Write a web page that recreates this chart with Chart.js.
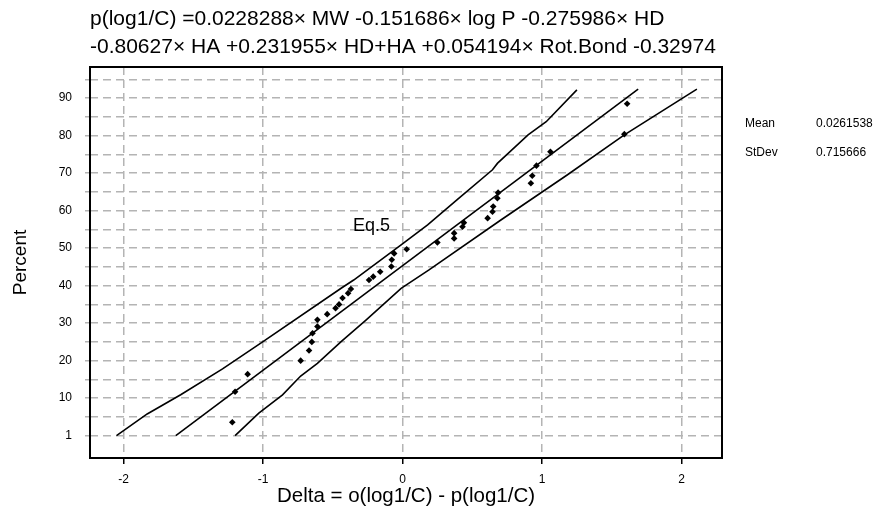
<!DOCTYPE html>
<html>
<head>
<meta charset="utf-8">
<title>Normal probability plot - Eq.5</title>
<script src="https://cdn.jsdelivr.net/npm/chart.js@4.4.1/dist/chart.umd.min.js"></script>
<style>
  body { margin: 0; background: #fff; }
  canvas { display: block; }
</style>
</head>
<body>
<canvas id="chart" width="877" height="511"></canvas>
<script>
// residuals (Delta) and their plotting positions
const deltaValues = [-1.22, -1.20, -1.11, -0.73, -0.67, -0.65, -0.645, -0.61, -0.61, -0.54,
  -0.48, -0.455, -0.43, -0.39, -0.37, -0.24, -0.21, -0.16, -0.08, -0.077,
  -0.06, 0.03, 0.25, 0.37, 0.37, 0.43, 0.44, 0.61, 0.645, 0.65,
  0.68, 0.685, 0.92, 0.93, 0.96, 1.06, 1.59, 1.61];
const percentValues = [3.6, 11.7, 16.4, 20.0, 22.7, 25.0, 27.3, 29.1, 30.9, 32.4,
  34.0, 35.0, 36.7, 38.0, 39.1, 41.5, 42.4, 43.7, 45.1, 46.9,
  48.6, 49.7, 51.5, 52.6, 54.0, 55.7, 56.8, 58.0, 59.7, 61.1,
  63.3, 64.8, 67.3, 69.3, 72.0, 75.7, 80.4, 88.5];

// fitted line and confidence band
const fitX = [-1.625, 1.689];
const fitY = [0, 92.4];
const upperX = [-2.05, -1.83, -1.59, -1.29, -1.0, -0.44, -0.35, -0.01, 0.18, 0.39, 0.645, 0.68, 0.90, 1.03, 1.25];
const upperY = [0, 5.8, 10.9, 17.8, 25.1, 39.3, 41.5, 50.9, 56.2, 62.9, 70.9, 72.6, 80.2, 83.7, 92.2];
const lowerX = [-1.2, -1.03, -0.86, -0.73, -0.61, -0.44, -0.26, -0.01, 0.19, 0.705, 1.18, 1.59, 2.11];
const lowerY = [0, 6.0, 10.9, 15.9, 19.3, 25.1, 30.9, 39.3, 44.2, 57.5, 69.5, 80.2, 92.4];

// axes
const xTicks = [-2, -1, 0, 1, 2];
const yTickValues = [0, 10, 20, 30, 40, 50, 60, 70, 80, 90];
const yTickLabels = ['1', '10', '20', '30', '40', '50', '60', '70', '80', '90'];
const yGridValues = [0, 5, 10, 15, 20, 25, 30, 35, 40, 45, 50, 55, 60, 65, 70, 75, 80, 85, 90, 95];

const titleLines = [
  'p(log1/C) =0.0228288\u00d7 MW -0.151686\u00d7 log P -0.275986\u00d7 HD',
  '-0.80627\u00d7 HA +0.231955\u00d7 HD+HA +0.054194\u00d7 Rot.Bond -0.32974'
];
const statNames = ['Mean', 'StDev'];
const statValues = ['0.0261538', '0.715666'];
const eqLabel = 'Eq.5';

const zip = (xs, ys) => xs.map((x, i) => ({ x: x, y: ys[i] }));

const lineStyle = {
  showLine: true, pointRadius: 0, borderColor: '#000', backgroundColor: '#000',
  borderWidth: 1.6, tension: 0, fill: false
};

const GRID = '#b4b4b4';
const FONT = 'Arial, "Liberation Sans", sans-serif';

// frame, title, stats box and the Eq.5 label
const extras = {
  id: 'extras',
  afterDraw(chart) {
    const { ctx, chartArea: a, scales } = chart;
    ctx.save();
    ctx.setLineDash([]);
    ctx.strokeStyle = '#000';
    ctx.lineWidth = 2;
    ctx.strokeRect(a.left, a.top, a.right - a.left, a.bottom - a.top);

    ctx.fillStyle = '#000';
    ctx.textAlign = 'left';
    ctx.textBaseline = 'alphabetic';
    ctx.font = '21px ' + FONT;
    ctx.fillText(titleLines[0], 90, 25);
    ctx.fillText(titleLines[1], 90, 53);

    ctx.font = '12px ' + FONT;
    statNames.forEach((n, i) => {
      ctx.fillText(n, 745, 127 + i * 29);
      ctx.fillText(statValues[i], 816, 127 + i * 29);
    });

    ctx.font = '18px ' + FONT;
    ctx.fillText(eqLabel, scales.x.getPixelForValue(-0.355), scales.y.getPixelForValue(54.5));
    ctx.restore();
  }
};

new Chart(document.getElementById('chart'), {
  type: 'scatter',
  data: {
    datasets: [
      { data: zip(deltaValues, percentValues), pointStyle: 'rectRot', pointRadius: 3.3,
        backgroundColor: '#000', borderColor: '#000', borderWidth: 0 },
      Object.assign({ data: zip(fitX, fitY) }, lineStyle),
      Object.assign({ data: zip(upperX, upperY) }, lineStyle),
      Object.assign({ data: zip(lowerX, lowerY) }, lineStyle)
    ]
  },
  options: {
    responsive: false,
    animation: false,
    layout: { padding: { top: 67, right: 155, left: 0, bottom: 0 } },
    plugins: { legend: { display: false }, tooltip: { enabled: false } },
    scales: {
      x: {
        type: 'linear', min: -2.24, max: 2.29,
        afterBuildTicks: s => { s.ticks = xTicks.map(v => ({ value: v })); },
        afterFit: s => { s.height = 53; },
        border: { display: false, dash: [8, 5] },
        grid: { color: GRID, lineWidth: 1.5, tickColor: '#000',
                tickLength: 6, tickWidth: 1.5, tickBorderDash: [] },
        ticks: { color: '#000', font: { family: FONT, size: 12 }, padding: 8, autoSkip: false },
        title: { display: true, text: 'Delta = o(log1/C) - p(log1/C)', color: '#000',
                 font: { family: FONT, size: 20.5 }, padding: { top: 0, bottom: 2 } }
      },
      y: {
        type: 'linear', min: -5.95, max: 98.3,
        afterBuildTicks: s => { s.ticks = yGridValues.map(v => ({ value: v })); },
        afterFit: s => { s.width = 90; },
        border: { display: false, dash: [8, 5] },
        grid: { color: GRID, lineWidth: 1.5, tickColor: GRID,
                tickLength: 5, tickWidth: 1.5, tickBorderDash: [8, 5] },
        ticks: {
          color: '#000', font: { family: FONT, size: 12 }, padding: 13, autoSkip: false,
          callback: v => { const i = yTickValues.indexOf(v); return i >= 0 ? yTickLabels[i] : ''; }
        },
        title: { display: true, text: 'Percent', color: '#000',
                 font: { family: FONT, size: 19 }, padding: { top: 9, bottom: 0 } }
      }
    }
  },
  plugins: [extras]
});
</script>
</body>
</html>
